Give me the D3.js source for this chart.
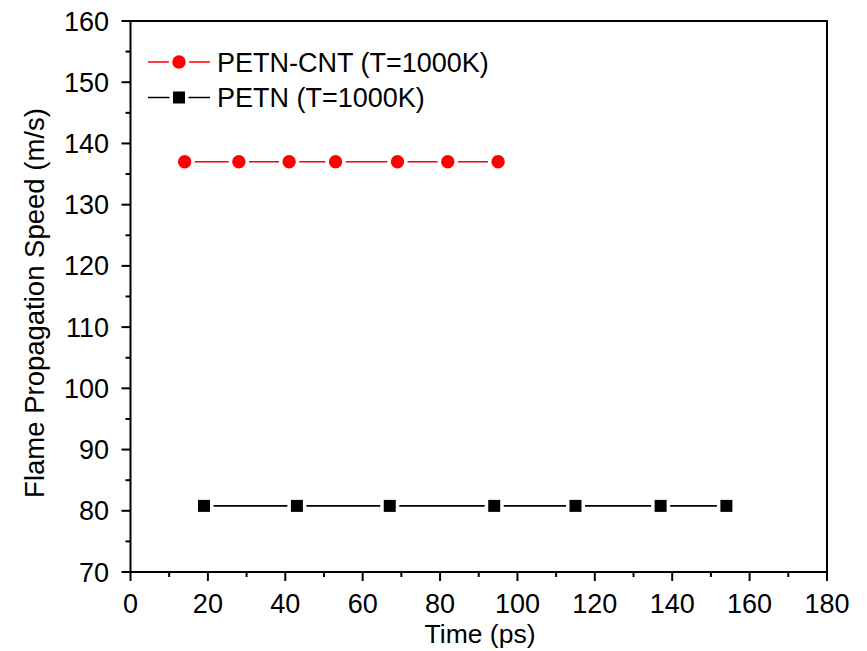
<!DOCTYPE html>
<html><head><meta charset="utf-8">
<script src="https://cdn.jsdelivr.net/npm/d3@7"></script>
<style>body{margin:0;background:#fff}svg{display:block;font-family:"Liberation Sans",Arial,sans-serif}</style>
</head><body><svg id="c" width="867" height="651"></svg>
<script>
const cntTime = [14, 28, 41, 53, 69, 82, 95];
const cntSpeed = [137, 137, 137, 137, 137, 137, 137];
const petnTime = [19, 43, 67, 94, 115, 137, 154];
const petnSpeed = [80.8, 80.8, 80.8, 80.8, 80.8, 80.8, 80.8];
const xTicks = [0, 20, 40, 60, 80, 100, 120, 140, 160, 180];
const yTicks = [70, 80, 90, 100, 110, 120, 130, 140, 150, 160];
const seriesNames = ["PETN-CNT (T=1000K)", "PETN (T=1000K)"];

const svg = d3.select("#c");
const L = 130.5, R = 827, T = 21, B = 572;
const x = d3.scaleLinear().domain([0, 180]).range([L, R]);
const y = d3.scaleLinear().domain([70, 160]).range([B, T]);

const xMinor = d3.range(10, 180, 20);
const yMinor = d3.range(75, 160, 10);
const ax = svg.append("g");
ax.selectAll(".xm").data(xMinor).join("line").attr("x1", d => x(d)).attr("x2", d => x(d)).attr("y1", B).attr("y2", B + 5).attr("stroke", "#000").attr("stroke-width", 2);
ax.selectAll(".xM").data(xTicks).join("line").attr("x1", d => x(d)).attr("x2", d => x(d)).attr("y1", B).attr("y2", B + 9).attr("stroke", "#000").attr("stroke-width", 2);
ax.selectAll(".ym").data(yMinor).join("line").attr("y1", d => y(d)).attr("y2", d => y(d)).attr("x1", L).attr("x2", L - 5).attr("stroke", "#000").attr("stroke-width", 2);
ax.selectAll(".yM").data(yTicks).join("line").attr("y1", d => y(d)).attr("y2", d => y(d)).attr("x1", L).attr("x2", L - 9).attr("stroke", "#000").attr("stroke-width", 2);
svg.append("rect").attr("x", L).attr("y", T).attr("width", R - L).attr("height", B - T).attr("fill", "none").attr("stroke", "#000").attr("stroke-width", 2);

ax.selectAll(".xl").data(xTicks).join("text").attr("x", d => x(d)).attr("y", 613).attr("text-anchor", "middle").attr("font-size", 27).text(d => d);
ax.selectAll(".yl").data(yTicks).join("text").attr("x", 109).attr("y", d => y(d) + 9.5).attr("text-anchor", "end").attr("font-size", 27).text(d => d);

svg.append("text").attr("x", 480).attr("y", 643).attr("text-anchor", "middle").attr("font-size", 26.5).text("Time (ps)");
svg.append("text").attr("transform", `translate(44,303) rotate(-90)`).attr("text-anchor", "middle").attr("font-size", 27.5).text("Flame Propagation Speed (m/s)");

const line = d3.line().x(d => x(d[0])).y(d => y(d[1]));
const cnt = cntTime.map((t, i) => [t, cntSpeed[i]]);
const petn = petnTime.map((t, i) => [t, petnSpeed[i]]);

svg.append("path").attr("d", line(cnt)).attr("fill", "none").attr("stroke", "#ff0000").attr("stroke-width", 1.6);
svg.append("path").attr("d", line(petn)).attr("fill", "none").attr("stroke", "#000").attr("stroke-width", 1.6);
svg.selectAll(".c").data(cnt).join("circle").attr("cx", d => x(d[0])).attr("cy", d => y(d[1])).attr("r", 6.7).attr("fill", "#ff0000").attr("stroke", "#fff").attr("stroke-width", 7).attr("paint-order", "stroke");
svg.selectAll(".s").data(petn).join("rect").attr("x", d => x(d[0]) - 6).attr("y", d => y(d[1]) - 6).attr("width", 12).attr("height", 12).attr("fill", "#000").attr("stroke", "#fff").attr("stroke-width", 7).attr("paint-order", "stroke");

const lg = svg.append("g");
const rows = [{y: 62, color: "#ff0000", shape: "circle"}, {y: 97.5, color: "#000", shape: "square"}];
rows.forEach((r, i) => {
  lg.append("line").attr("x1", 148).attr("x2", 210).attr("y1", r.y).attr("y2", r.y).attr("stroke", r.color).attr("stroke-width", 1.6);
  if (r.shape === "circle") lg.append("circle").attr("cx", 179).attr("cy", r.y).attr("r", 6.7).attr("fill", r.color).attr("stroke", "#fff").attr("stroke-width", 7).attr("paint-order", "stroke");
  else lg.append("rect").attr("x", 173).attr("y", r.y - 6).attr("width", 12).attr("height", 12).attr("fill", r.color).attr("stroke", "#fff").attr("stroke-width", 7).attr("paint-order", "stroke");
  lg.append("text").attr("x", 217).attr("y", r.y + 9.5).attr("font-size", 27).text(seriesNames[i]);
});
</script></body></html>
